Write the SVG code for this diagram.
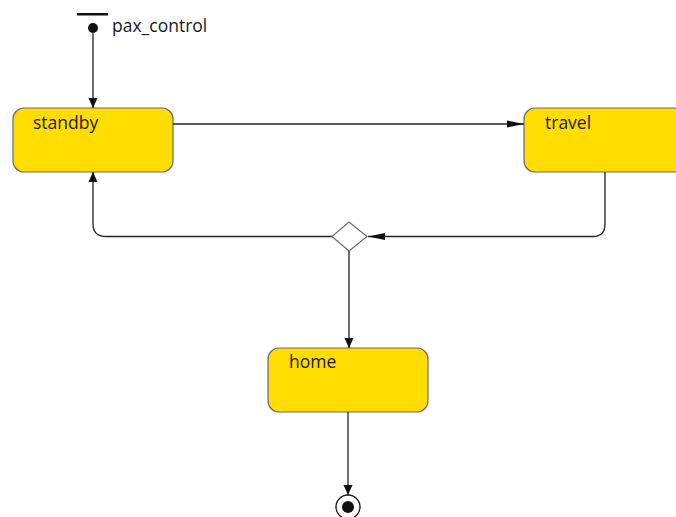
<svg xmlns="http://www.w3.org/2000/svg" width="676" height="517" viewBox="0 0 676 517">
  <style>
    .state rect { fill: #ffdd00; stroke: #6b6b6b; stroke-width: 1.2; }
    .label { font-family: "Open Sans", "Noto Sans", "DejaVu Sans", sans-serif; font-size: 17.5px; fill: #1a1a1a; }
    .edge { fill: none; stroke: #222; stroke-width: 1.3; }
  </style>
  <defs>
    <marker id="arrow" viewBox="0 0 10 12" refX="10" refY="6" markerWidth="10" markerHeight="12" markerUnits="userSpaceOnUse" orient="auto">
      <path d="M0,1.5 L10,6 L0,10.5 Z" fill="#111"/>
    </marker>
    <marker id="arrowLong" viewBox="0 0 17 10" refX="17" refY="5" markerWidth="17" markerHeight="10" markerUnits="userSpaceOnUse" orient="auto">
      <path d="M0,1.5 L17,5 L0,8.5 Z" fill="#111"/>
    </marker>
  </defs>

  <!-- initial pseudo-state -->
  <g id="initial">
    <rect x="77" y="13" width="31" height="2.5" fill="#111"/>
    <circle cx="93" cy="28" r="5" fill="#111"/>
    <text class="label" x="112" y="32">pax_control</text>
  </g>

  <g id="standby" class="state">
    <rect x="13" y="108" width="160" height="64" rx="11"/>
    <text class="label" x="33" y="129">standby</text>
  </g>

  <g id="travel" class="state">
    <rect x="524" y="108" width="160" height="64" rx="11"/>
    <text class="label" x="545" y="129">travel</text>
  </g>

  <g id="choice">
    <polygon points="349,222 367,236.5 349,251 332,236.5" fill="#fff" stroke="#6b6b6b" stroke-width="1.2"/>
  </g>

  <g id="home" class="state">
    <rect x="268" y="348" width="160" height="64" rx="11"/>
    <text class="label" x="289" y="368">home</text>
  </g>

  <g id="final">
    <circle cx="348" cy="507" r="12" fill="#fff" stroke="#222" stroke-width="1.4"/>
    <circle cx="348" cy="507" r="6" fill="#111"/>
  </g>

  <g id="connectors">
    <path class="edge" d="M93,33 V108" marker-end="url(#arrow)"/>
    <path class="edge" d="M173,124 H524" marker-end="url(#arrowLong)"/>
    <path class="edge" d="M605,172 V224 Q605,236.5 593,236.5 H368" marker-end="url(#arrowLong)"/>
    <path class="edge" d="M332,236.5 H106 Q93,236.5 93,224 V172" marker-end="url(#arrow)"/>
    <path class="edge" d="M349,251 V348" marker-end="url(#arrow)"/>
    <path class="edge" d="M348,412 V495" marker-end="url(#arrow)"/>
  </g>
</svg>
